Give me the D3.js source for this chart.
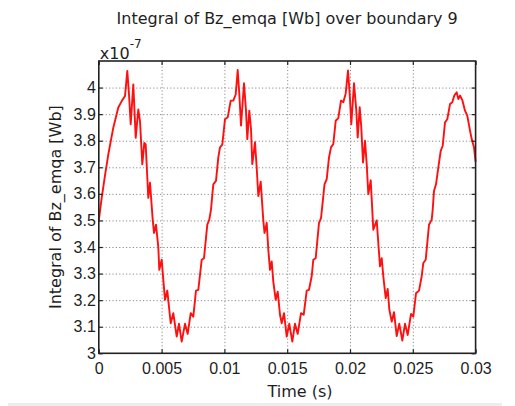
<!DOCTYPE html>
<html>
<head>
<meta charset="utf-8">
<script src="https://cdn.jsdelivr.net/npm/d3@7.9.0/dist/d3.min.js"></script>
<style>
  html, body { margin: 0; padding: 0; background: #fff; }
  svg { display: block; font-family: 'DejaVu Sans', sans-serif; }
  .grid line { stroke: #8c8c8c; stroke-dasharray: 1.2 2.2; }
  .grid path, .axis path { display: none; }
  .axis line { stroke: #222; stroke-width: 1.2; }
  .axis text { font-size: 16px; fill: #1e1e1e; }
</style>
</head>
<body>
<svg id="chart" width="515" height="406"></svg>
<script>
// time in milliseconds
const timeMs = [
  0, 0.231, 0.494, 0.756, 1.154, 1.553, 1.823, 2.086, 2.269, 2.404, 2.540, 2.747, 2.938, 3.145,
  3.280, 3.463, 3.623, 3.734, 3.941, 4.077, 4.292, 4.395, 4.554, 4.737, 4.817, 5.008, 5.135,
  5.271, 5.454, 5.725, 5.932, 6.202, 6.385, 6.600, 6.863, 7.078, 7.317, 7.524, 7.739, 7.922,
  8.193, 8.376, 8.639, 8.798, 8.933, 9.116, 9.331, 9.515, 9.650, 9.833, 10.048, 10.263, 10.502,
  10.709, 10.900, 11.059, 11.187, 11.322, 11.561, 11.720, 11.823, 11.983, 12.118, 12.222,
  12.437, 12.572, 12.699, 12.890, 13.097, 13.193, 13.368, 13.496, 13.631, 13.766, 13.894,
  14.085, 14.244, 14.427, 14.563, 14.746, 14.961, 15.168, 15.406, 15.621, 15.836, 16.099,
  16.314, 16.553, 16.736, 16.951, 17.078, 17.269, 17.532, 17.692, 17.851, 17.970, 18.145,
  18.328, 18.488, 18.671, 18.862, 19.069, 19.284, 19.467, 19.658, 19.841, 19.977, 20.104,
  20.319, 20.502, 20.614, 20.773, 20.900, 21.036, 21.195, 21.330, 21.458, 21.649, 21.856,
  22.127, 22.254, 22.389, 22.525, 22.652, 22.843, 23.002, 23.130, 23.321, 23.504, 23.719,
  23.926, 24.165, 24.380, 24.595, 24.858, 25.041, 25.256, 25.495, 25.710, 25.838, 26.028,
  26.291, 26.506, 26.585, 26.689, 26.848, 27.031, 27.222, 27.381, 27.565, 27.748, 27.963,
  28.146, 28.305, 28.496, 28.624, 28.759, 28.942, 29.157, 29.340, 29.555, 29.690, 29.873, 30
];

// integral of Bz_emqa, in units of 1e-7 Wb
const fluxValues = [
  3.50, 3.585, 3.67, 3.748, 3.849, 3.925, 3.949, 3.968, 4.063, 3.975, 3.862, 4.012, 3.811, 3.918,
  3.874, 3.711, 3.792, 3.786, 3.585, 3.642, 3.503, 3.453, 3.484, 3.40, 3.314, 3.352, 3.277,
  3.201, 3.236, 3.113, 3.151, 3.063, 3.111, 3.044, 3.111, 3.073, 3.151, 3.138, 3.236, 3.239,
  3.352, 3.358, 3.484, 3.503, 3.541, 3.636, 3.649, 3.737, 3.775, 3.785, 3.881, 3.888, 3.951,
  3.951, 3.974, 4.066, 3.976, 3.857, 4.016, 3.913, 3.806, 3.913, 3.844, 3.712,
  3.794, 3.699, 3.592, 3.646, 3.50, 3.453, 3.491, 3.39, 3.314, 3.346, 3.27,
  3.201, 3.232, 3.145, 3.113, 3.151, 3.063, 3.111, 3.044, 3.111, 3.073, 3.151,
  3.145, 3.236, 3.239, 3.29, 3.352, 3.358, 3.491, 3.509, 3.58, 3.636, 3.655,
  3.737, 3.775, 3.788, 3.875, 3.885, 3.951, 3.945, 3.978, 4.064, 3.975, 3.862,
  4.016, 3.913, 3.812, 3.926, 3.85, 3.718, 3.80, 3.712, 3.599, 3.651, 3.465,
  3.50, 3.415, 3.327, 3.358, 3.29, 3.208, 3.242, 3.165, 3.119, 3.155, 3.065,
  3.111, 3.048, 3.111, 3.069, 3.148, 3.138, 3.226, 3.236, 3.29, 3.34, 3.352,
  3.484, 3.503, 3.541, 3.611, 3.636, 3.699, 3.762, 3.781, 3.869, 3.881, 3.938,
  3.945, 3.97, 3.982, 3.957, 3.97, 3.953, 3.913, 3.894, 3.838, 3.806, 3.775, 3.72
];

const xTickValues = [0, 5, 10, 15, 20, 25, 30];
const xTickLabels = ['0', '0.005', '0.01', '0.015', '0.02', '0.025', '0.03'];
const yTickValues = [3, 3.1, 3.2, 3.3, 3.4, 3.5, 3.6, 3.7, 3.8, 3.9, 4];
const yTickLabels = ['3', '3.1', '3.2', '3.3', '3.4', '3.5', '3.6', '3.7', '3.8', '3.9', '4'];

const titleText = 'Integral of Bz_emqa [Wb] over boundary 9';
const yLabelText = 'Integral of Bz_emqa [Wb]';
const xLabelText = 'Time (s)';

const width = 515;
const height = 406;
const plot = { left: 98.8, right: 475.6, top: 61, bottom: 353.3 };
const plotW = plot.right - plot.left;
const plotH = plot.bottom - plot.top;

const svg = d3.select('#chart');

svg.append('rect').attr('width', width).attr('height', height).attr('fill', '#fff');
svg.append('rect').attr('x', 8).attr('y', 403).attr('width', 494).attr('height', 3).attr('fill', '#ededed');

const x = d3.scaleLinear().domain([0, 30]).range([plot.left, plot.right]);
const y = d3.scaleLinear().domain([3, 4.1]).range([plot.bottom, plot.top]);

const xLabelFor = (d) => xTickLabels[xTickValues.indexOf(d)];
const yLabelFor = (d) => yTickLabels[yTickValues.indexOf(d)];

// gridlines
svg.append('g')
  .attr('class', 'grid')
  .attr('transform', `translate(0,${plot.bottom})`)
  .call(d3.axisBottom(x).tickValues(xTickValues.slice(1, -1)).tickSize(-plotH).tickFormat(''));
svg.append('g')
  .attr('class', 'grid')
  .attr('transform', `translate(${plot.left},0)`)
  .call(d3.axisLeft(y).tickValues(yTickValues.slice(1)).tickSize(-plotW).tickFormat(''));

// data line
svg.append('path')
  .datum(d3.zip(timeMs, fluxValues))
  .attr('fill', 'none')
  .attr('stroke', '#ff1010')
  .attr('stroke-width', 1.9)
  .attr('stroke-linejoin', 'round')
  .attr('d', d3.line().x((d) => x(d[0])).y((d) => y(d[1])));

// axes with inward ticks on all four sides
svg.append('g')
  .attr('class', 'axis')
  .attr('transform', `translate(0,${plot.bottom})`)
  .call(d3.axisBottom(x).tickValues(xTickValues).tickSize(-4).tickPadding(9).tickFormat(xLabelFor));
svg.append('g')
  .attr('class', 'axis')
  .attr('transform', `translate(0,${plot.top})`)
  .call(d3.axisTop(x).tickValues(xTickValues).tickSize(-4).tickFormat(''));
svg.append('g')
  .attr('class', 'axis')
  .attr('transform', `translate(${plot.left},0)`)
  .call(d3.axisLeft(y).tickValues(yTickValues).tickSize(-4).tickPadding(3).tickFormat(yLabelFor));
svg.append('g')
  .attr('class', 'axis')
  .attr('transform', `translate(${plot.right},0)`)
  .call(d3.axisRight(y).tickValues(yTickValues).tickSize(-4).tickFormat(''));

// frame
svg.append('rect')
  .attr('x', plot.left)
  .attr('y', plot.top)
  .attr('width', plotW)
  .attr('height', plotH)
  .attr('fill', 'none')
  .attr('stroke', '#222')
  .attr('stroke-width', 1.6);

// texts
svg.append('text')
  .attr('x', (plot.left + plot.right) / 2)
  .attr('y', 23.5)
  .attr('text-anchor', 'middle')
  .attr('font-size', 16)
  .attr('fill', '#1e1e1e')
  .text(titleText);

const mult = svg.append('text')
  .attr('x', plot.left + 1)
  .attr('y', 59)
  .attr('font-size', 16)
  .attr('fill', '#1e1e1e');
mult.append('tspan').text('x10');
mult.append('tspan').attr('dy', -11).attr('font-size', 12).text('-7');

svg.append('text')
  .attr('transform', `translate(61,${(plot.top + plot.bottom) / 2}) rotate(-90)`)
  .attr('text-anchor', 'middle')
  .attr('font-size', 16)
  .attr('fill', '#1e1e1e')
  .text(yLabelText);

svg.append('text')
  .attr('x', 300)
  .attr('y', 397)
  .attr('text-anchor', 'middle')
  .attr('font-size', 16)
  .attr('fill', '#1e1e1e')
  .text(xLabelText);
</script>
</body>
</html>
